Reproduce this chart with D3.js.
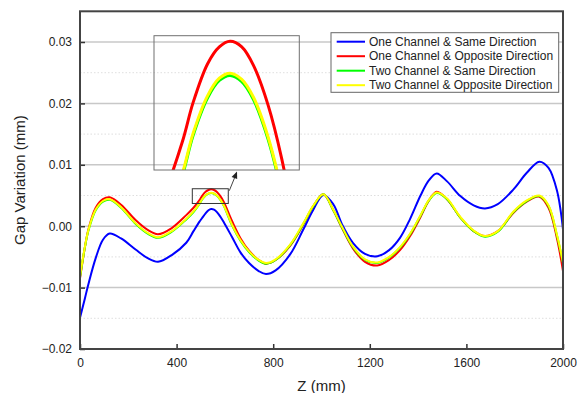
<!DOCTYPE html>
<html><head><meta charset="utf-8">
<script src="https://cdn.jsdelivr.net/npm/d3@7"></script>
<style>
body{margin:0;background:#fff;}
svg{display:block;font-family:Arial,"Liberation Sans",sans-serif;}
</style></head><body>
<svg id="chart" width="579" height="393"></svg>
<script>
const zValues = [0,20,35,65,95,123,170,230,280,323,380,440,470,494,505,520,532,543,555,567,582,596,630,665,700,740,770,810,870,925,965,1008,1050,1085,1130,1180,1231,1280,1325,1367,1410,1445,1477,1520,1575,1630,1677,1730,1795,1850,1902,1940,1975,2000];
const oneSame = [-0.0149,-0.0118,-0.0094,-0.0052,-0.0022,-0.0012,-0.0020,-0.0038,-0.0052,-0.0058,-0.0047,-0.0027,-0.0008,0.0007,0.0013,0.0021,0.0026,0.0028,0.0027,0.0023,0.0015,0.0006,-0.0018,-0.0043,-0.0060,-0.0073,-0.0078,-0.0072,-0.0046,-0.0005,0.0026,0.0051,0.0035,0.0003,-0.0027,-0.0045,-0.0049,-0.0039,-0.0019,0.0012,0.0050,0.0075,0.0086,0.0073,0.0049,0.0034,0.0029,0.0036,0.0060,0.0087,0.0105,0.0095,0.0058,-0.0005];
const oneOpp = [-0.0085,-0.0035,-0.0005,0.0030,0.0044,0.0047,0.0035,0.0010,-0.0006,-0.0013,-0.0003,0.0018,0.0030,0.0042,0.0049,0.0056,0.0059,0.0060,0.0059,0.00557,0.00486,0.0039,0.0008,-0.0020,-0.0040,-0.0055,-0.0061,-0.0055,-0.0032,0.0003,0.0032,0.0052,0.0025,-0.0003,-0.0036,-0.0058,-0.0064,-0.0055,-0.0039,-0.0016,0.0015,0.0042,0.0056,0.0044,0.0014,-0.0008,-0.0016,-0.0008,0.0022,0.0040,0.0048,0.0030,-0.0020,-0.0073];
const twoSame = [-0.0083,-0.0035,-0.0007,0.0026,0.0040,0.0043,0.0030,0.0004,-0.0012,-0.0019,-0.0009,0.0011,0.0023,0.00359,0.00431,0.00499,0.00530,0.00539,0.00528,0.00496,0.00425,0.00328,0.0001,-0.0024,-0.0042,-0.0056,-0.0061,-0.0055,-0.0031,0.0004,0.0032,0.0052,0.0025,-0.0002,-0.0034,-0.0055,-0.0060,-0.0051,-0.0035,-0.0013,0.0017,0.0042,0.0054,0.0044,0.0014,-0.0008,-0.0017,-0.0009,0.0023,0.0041,0.0049,0.0033,-0.0015,-0.0060];
const twoOpp = [-0.0082,-0.0034,-0.0006,0.0027,0.0041,0.0044,0.0031,0.0005,-0.0011,-0.0018,-0.0008,0.0012,0.0024,0.00363,0.00435,0.00503,0.00534,0.00543,0.00532,0.00500,0.00429,0.00332,0.0002,-0.0023,-0.0041,-0.0055,-0.0060,-0.0054,-0.0030,0.0005,0.0033,0.0052,0.0026,-0.0001,-0.0033,-0.0054,-0.0059,-0.0050,-0.0034,-0.0012,0.0018,0.0043,0.0055,0.0045,0.0015,-0.0007,-0.0016,-0.0008,0.0024,0.0042,0.0050,0.0034,-0.0014,-0.0059];
const seriesNames = ["One Channel & Same Direction","One Channel & Opposite Direction","Two Channel & Same Direction","Two Channel & Opposite Direction"];
const seriesColors = ["#0000ff","#ff0000","#00ff00","#ffff00"];
const xTicks = [0,400,800,1200,1600,2000];
const yTicks = [-0.02,-0.01,0.00,0.01,0.02,0.03];
const yMinor = [-0.015,-0.005,0.005,0.015,0.025];
const zoomX = [465,614];
const zoomY = [0.0037,0.0061];

const seriesValues = [oneSame, oneOpp, twoSame, twoOpp];
const series = seriesNames.map((n,i)=>({name:n,color:seriesColors[i],pts:zValues.map((z,j)=>[z,seriesValues[i][j]])}));

const svg = d3.select("#chart");
const L=80,R=563,T=11.3,B=349;
const x = d3.scaleLinear().domain([0,2000]).range([L,R]);
const y = d3.scaleLinear().domain([-0.02,0.035]).range([B,T]);

// grid
svg.append("g").selectAll("line").data(yMinor).join("line")
  .attr("x1",L).attr("x2",R).attr("y1",d=>y(d)).attr("y2",d=>y(d))
  .attr("stroke","#d6d6d6").attr("stroke-width",0.8).attr("stroke-dasharray","1.5,2");
svg.append("g").selectAll("line").data(yTicks.filter(d=>d>-0.02)).join("line")
  .attr("x1",L).attr("x2",R).attr("y1",d=>y(d)).attr("y2",d=>y(d))
  .attr("stroke","#c8c8c8").attr("stroke-width",1.5);

// lines
svg.append("defs").append("clipPath").attr("id","plotclip").append("rect")
  .attr("x",L).attr("y",T).attr("width",R-L).attr("height",B-T);
const line = d3.line().x(d=>x(d[0])).y(d=>y(d[1])).curve(d3.curveCatmullRom.alpha(0.5));
svg.append("g").attr("clip-path","url(#plotclip)").selectAll("path").data(series).join("path")
  .attr("d",d=>line(d.pts)).attr("fill","none").attr("stroke",d=>d.color).attr("stroke-width",2);

// axes
const xAxis = d3.axisBottom(x).tickValues(xTicks).tickSizeInner(-5).tickSizeOuter(0).tickPadding(9).tickFormat(d3.format("d"));
const gx = svg.append("g").attr("transform",`translate(0,${B})`).call(xAxis);
const yAxis = d3.axisLeft(y).tickValues(yTicks).tickSizeInner(-5).tickSizeOuter(0).tickPadding(8).tickFormat(d3.format(".2f"));
const gy = svg.append("g").attr("transform",`translate(${L},0)`).call(yAxis);
[gx,gy].forEach(g=>{
  g.select(".domain").remove();
  g.selectAll(".tick line").attr("stroke","#333").attr("stroke-width",1.5);
  g.selectAll("text").attr("font-size",12).attr("fill","#222").attr("font-family","Arial,'Liberation Sans',sans-serif");
});
svg.append("rect").attr("x",L).attr("y",T).attr("width",R-L).attr("height",B-T)
  .attr("fill","none").attr("stroke","#444").attr("stroke-width",2);

// titles
svg.append("text").attr("x",(L+R)/2).attr("y",391).attr("text-anchor","middle")
  .attr("font-size",15).attr("fill","#222").text("Z (mm)");
svg.append("text").attr("transform",`translate(25,${(T+B)/2}) rotate(-90)`).attr("text-anchor","middle")
  .attr("font-size",15).attr("fill","#222").text("Gap Variation (mm)");

// inset
const ix = d3.scaleLinear().domain(zoomX).range([154,299.3]);
const iy = d3.scaleLinear().domain(zoomY).range([170,35.7]);
svg.select("defs").append("clipPath").attr("id","insetclip").append("rect")
  .attr("x",154).attr("y",35.7).attr("width",145.3).attr("height",134.3);
const iline = d3.line().x(d=>ix(d[0])).y(d=>iy(d[1])).curve(d3.curveCatmullRom.alpha(0.5));
svg.append("g").attr("clip-path","url(#insetclip)").selectAll("path").data(series.slice(1)).join("path")
  .attr("d",d=>iline(d.pts)).attr("fill","none").attr("stroke",d=>d.color).attr("stroke-width",3);
svg.append("rect").attr("x",154).attr("y",35.7).attr("width",145.3).attr("height",134.3)
  .attr("fill","none").attr("stroke","#707070").attr("stroke-width",1);
// small zoom rect
svg.append("rect").attr("x",x(zoomX[0])).attr("y",y(zoomY[1])).attr("width",x(zoomX[1])-x(zoomX[0])).attr("height",y(zoomY[0])-y(zoomY[1]))
  .attr("fill","none").attr("stroke","#333").attr("stroke-width",1);
// arrow
const ax0 = x(zoomX[1])+1, ay0 = y(zoomY[1])+2, ax1 = 237, ay1 = 171.5;
svg.append("line").attr("x1",ax0).attr("y1",ay0).attr("x2",ax1-1.5).attr("y2",ay1+4)
  .attr("stroke","#444").attr("stroke-width",1);
const ang = Math.atan2(ay1-ay0, ax1-ax0);
const hl=7, hw=3;
const bx=ax1-hl*Math.cos(ang), by=ay1-hl*Math.sin(ang);
svg.append("path").attr("d",`M${ax1},${ay1}L${bx+hw*Math.sin(ang)},${by-hw*Math.cos(ang)}L${bx-hw*Math.sin(ang)},${by+hw*Math.cos(ang)}Z`)
  .attr("fill","#222");

// legend
const lg = svg.append("g");
lg.append("rect").attr("x",331).attr("y",32.7).attr("width",227.7).attr("height",59.6)
  .attr("fill","#fff").attr("stroke","#666").attr("stroke-width",1);
const rows = lg.selectAll("g").data(series).join("g").attr("transform",(d,i)=>`translate(0,${41.7+i*14.5})`);
rows.append("line").attr("x1",336.7).attr("x2",365).attr("stroke",d=>d.color).attr("stroke-width",2);
rows.append("text").attr("x",369).attr("dy","0.35em").attr("font-size",12).attr("fill","#222").text(d=>d.name);
</script>
</body></html>
